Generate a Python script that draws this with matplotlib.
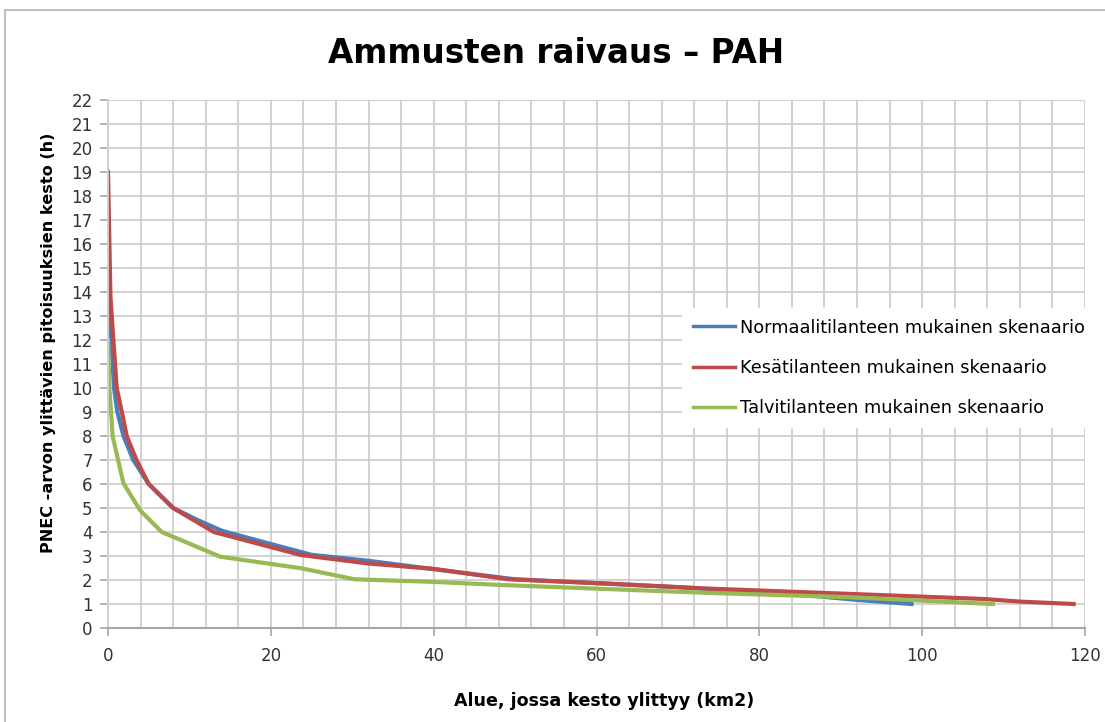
import matplotlib
matplotlib.use("Agg")
import matplotlib.pyplot as plt
from matplotlib.patches import Rectangle
from matplotlib.ticker import MultipleLocator

# Area (km2) where the PNEC exceedance duration (h) is exceeded
normal_x = [0, 0.2, 0.33, 0.74, 1.15, 1.9, 3.1, 5.0, 8.0, 11, 14, 20, 25, 32, 40, 50, 60, 70, 84, 92, 98.7]
normal_y = [16, 14, 12.4, 10, 9, 8, 7, 6, 5, 4.5, 4.05, 3.5, 3.05, 2.8, 2.45, 2.03, 1.87, 1.7, 1.42, 1.17, 1.0]

summer_x = [0, 0.3, 0.58, 1.07, 1.7, 2.3, 3.5, 5.0, 8.0, 13, 23.7, 31.9, 40.1, 49.2, 60.7, 73.1, 91.2, 107.5, 112, 118.6]
summer_y = [19, 13.8, 12.4, 10, 9, 8, 7, 6, 5, 4, 3.04, 2.69, 2.46, 2.03, 1.86, 1.65, 1.42, 1.21, 1.1, 1.0]

winter_x = [0, 0.16, 0.58, 1.9, 3.95, 6.6, 13.8, 23.7, 30.3, 40.1, 48.4, 73.1, 91.2, 108.7]
winter_y = [12, 10.05, 7.97, 6.03, 4.9, 4.0, 2.97, 2.49, 2.03, 1.92, 1.79, 1.47, 1.28, 1.0]

series_labels = [
    "Normaalitilanteen mukainen skenaario",
    "Kesätilanteen mukainen skenaario",
    "Talvitilanteen mukainen skenaario",
]
series_colors = ["#4a7ebb", "#be4b48", "#98b954"]

title = "Ammusten raivaus – PAH"
x_label = "Alue, jossa kesto ylittyy (km2)"
y_label = "PNEC -arvon ylittävien pitoisuuksien kesto (h)"

plt.rcParams["font.family"] = ["DejaVu Sans"]

W, H = 1105, 722
fig = plt.figure(figsize=(W / 100, H / 100), dpi=100)

# outer chart frame
fig.patches.append(Rectangle((5 / W, -0.05), 1.1, 1 - 10 / H + 0.05,
                             transform=fig.transFigure, fill=False,
                             edgecolor="#bfbfbf", linewidth=1.5))

ax = fig.add_axes([108 / W, 1 - 628 / H, (1085 - 108) / W, (628 - 100) / H])

for xs, ys, lab, col in zip([normal_x, summer_x, winter_x],
                            [normal_y, summer_y, winter_y],
                            series_labels, series_colors):
    ax.plot(xs, ys, color=col, linewidth=3, label=lab, solid_joinstyle="round")

ax.set_xlim(0, 120)
ax.set_ylim(0, 22)
ax.xaxis.set_major_locator(MultipleLocator(20))
ax.xaxis.set_minor_locator(MultipleLocator(4))
ax.yaxis.set_major_locator(MultipleLocator(1))
ax.grid(True, which="both", color="#cfcfcf", linewidth=1.3)
ax.set_axisbelow(True)

for side in ["top", "right"]:
    ax.spines[side].set_visible(False)
ax.spines["left"].set_color("#cfcfcf")
ax.spines["left"].set_linewidth(1.3)
ax.spines["bottom"].set_color("#a6a6a6")
ax.spines["bottom"].set_linewidth(1.5)

ax.tick_params(axis="x", which="major", length=6, width=1.2, color="#a6a6a6",
               labelsize=12, pad=8, labelcolor="#333333")
ax.tick_params(axis="x", which="minor", length=0)
ax.tick_params(axis="y", length=6, width=1.2, color="#a6a6a6",
               labelsize=12, pad=5, labelcolor="#333333")

fig.text(556 / W, 1 - 63 / H, title, fontsize=23.5, fontweight="bold",
         ha="center", va="baseline")
ax.set_xlabel(x_label, fontsize=12.6, fontweight="bold")
ax.xaxis.set_label_coords((604 - 108) / 977, -(692 - 628) / 528)
ax.set_ylabel(y_label, fontsize=11.6, fontweight="bold")
ax.yaxis.set_label_coords(-(108 - 56) / 977, (628 - 343) / 528)

leg = ax.legend(loc="upper left", bbox_to_anchor=((673 - 108) / 977, (628 - 299) / 528),
                fontsize=12.8, frameon=True, fancybox=False, edgecolor="none",
                facecolor="white", framealpha=1, handlelength=2.4,
                handletextpad=0.28, labelspacing=1.25, borderpad=0.6)
for line in leg.get_lines():
    line.set_linewidth(2.5)

fig.savefig("out.png", dpi=100, facecolor="white")
